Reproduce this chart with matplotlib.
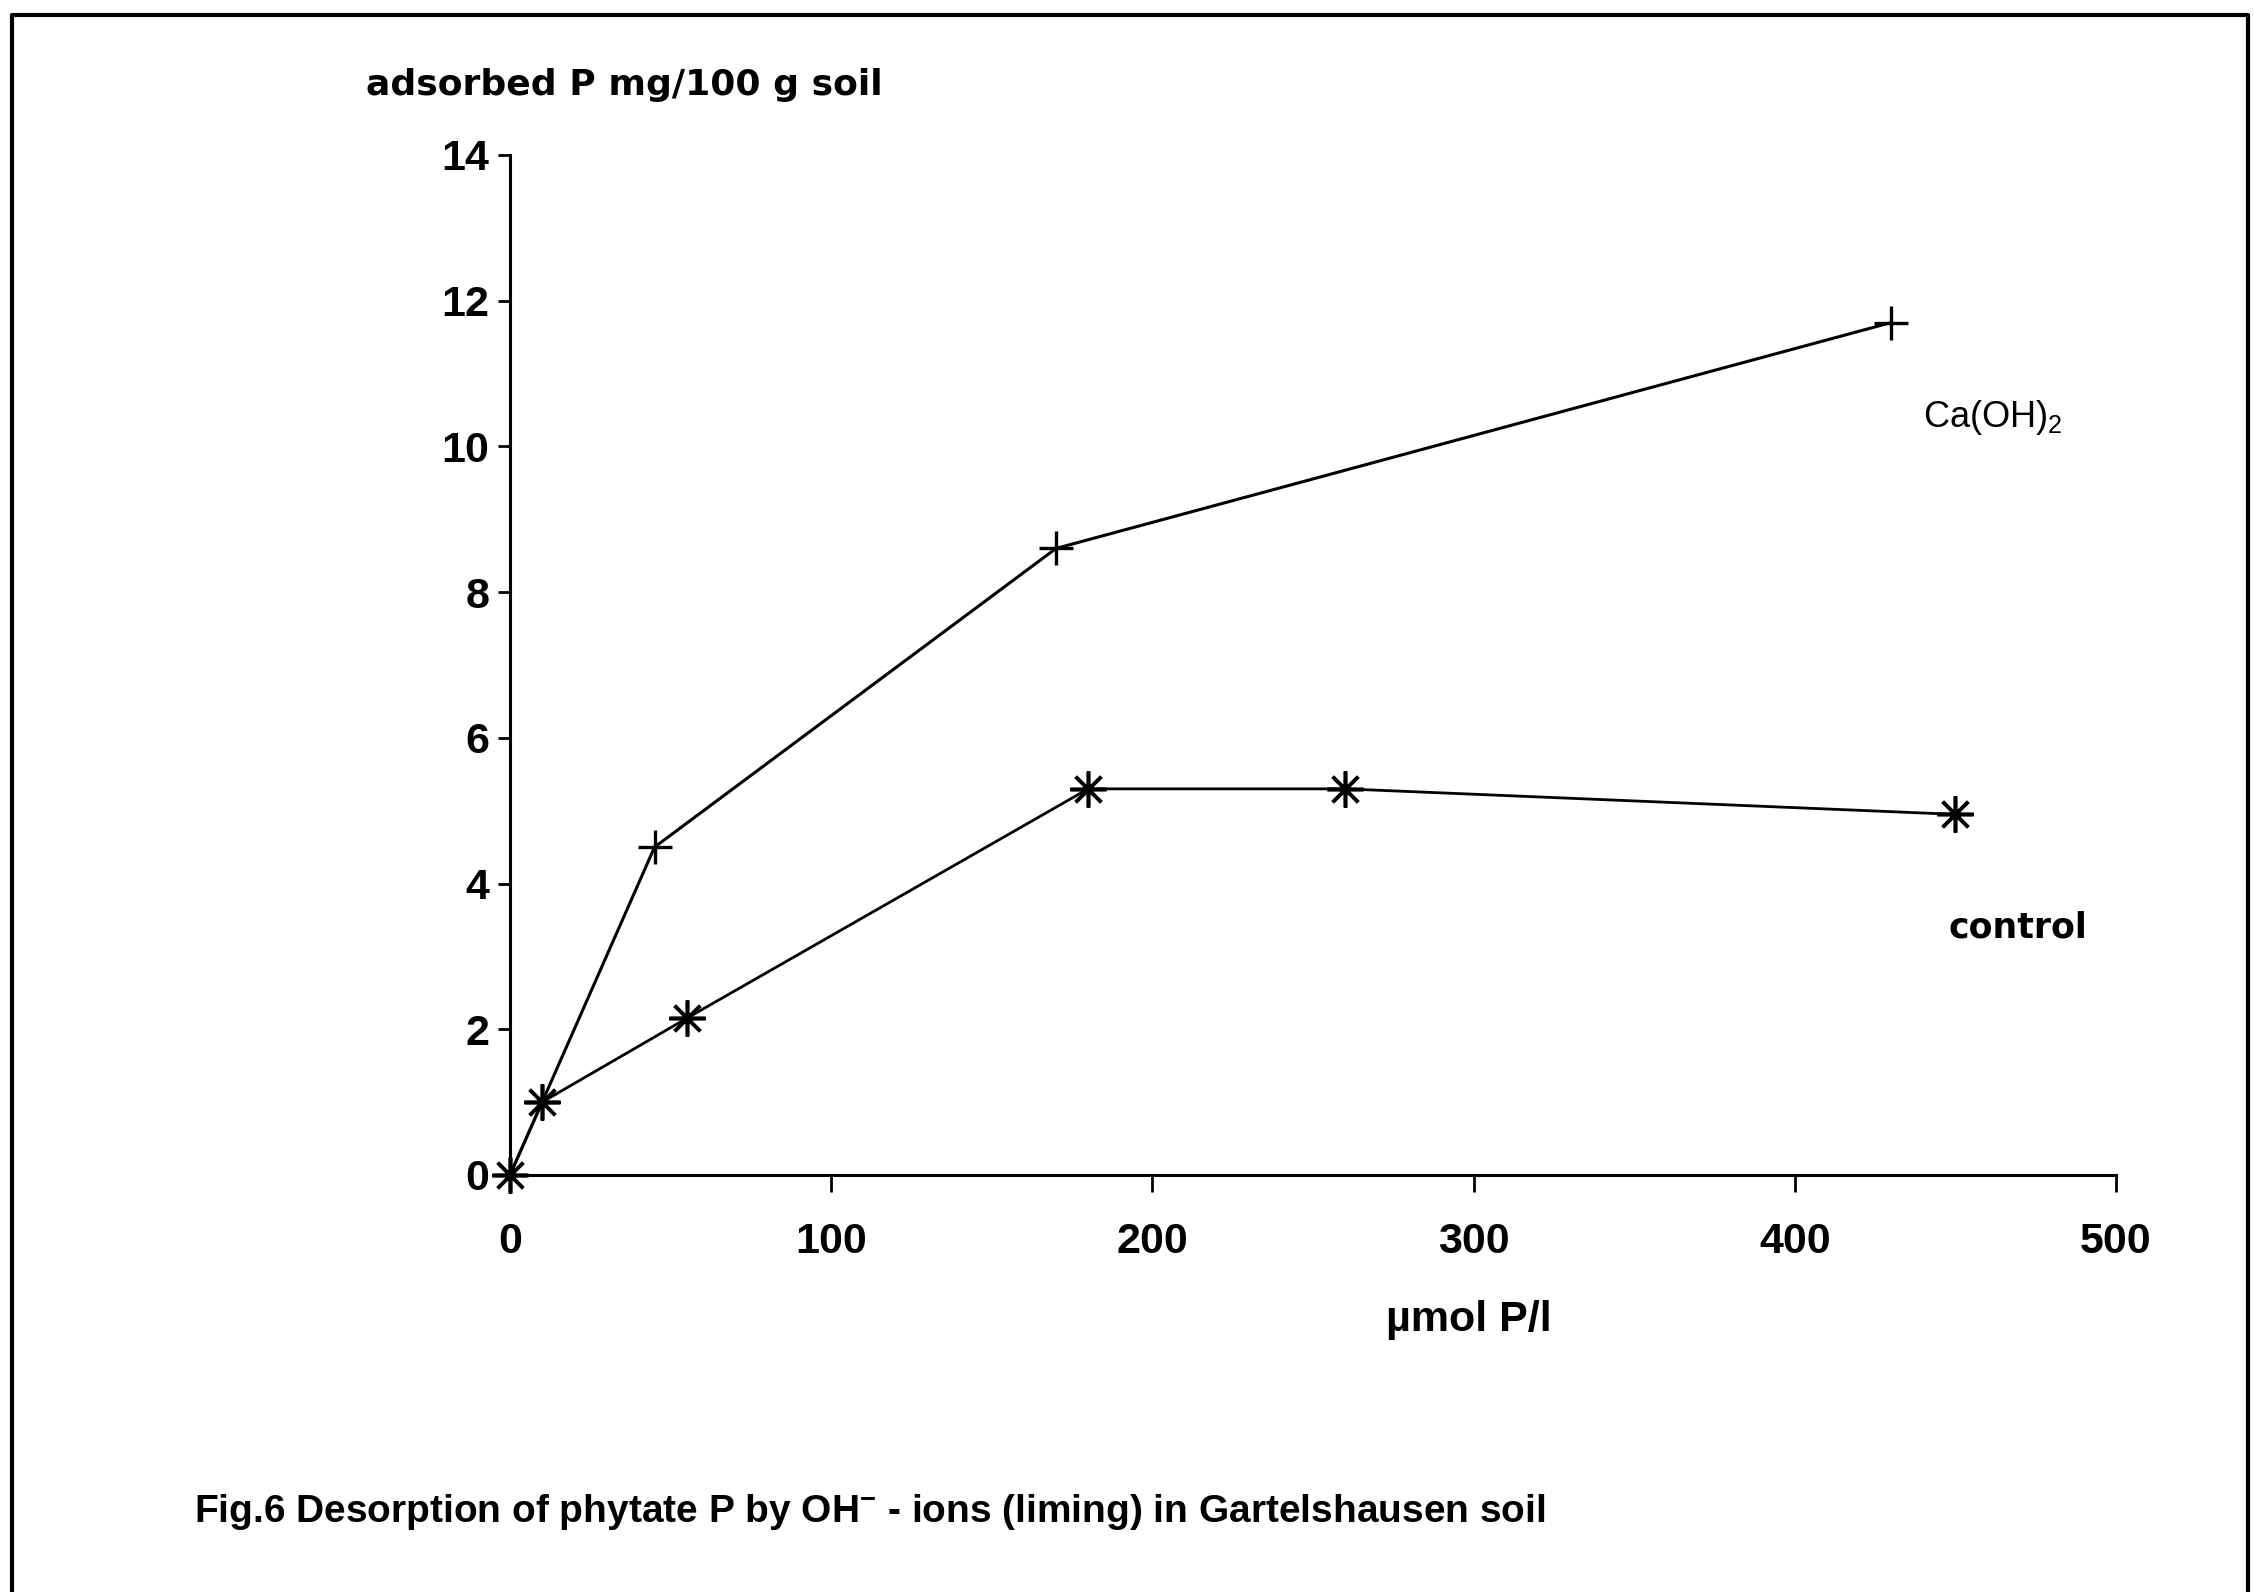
import matplotlib
matplotlib.use("Agg")
import matplotlib.pyplot as plt
from matplotlib.lines import Line2D

plt.rcParams['font.family'] = ['Liberation Sans', 'DejaVu Sans']
plt.rcParams['mathtext.default'] = 'regular'

# Data
caoh_x = [0, 10, 45, 170, 430]
caoh_y = [0, 1.0, 4.5, 8.6, 11.7]
control_x = [0, 10, 55, 180, 260, 450]
control_y = [0, 1.0, 2.15, 5.3, 5.3, 4.95]
x_ticks = [0, 100, 200, 300, 400, 500]
y_ticks = [0, 2, 4, 6, 8, 10, 12, 14]

W, H = 2254, 1592
fig = plt.figure(figsize=(W / 100, H / 100), dpi=100)
ax = fig.add_axes([510 / W, 1 - 1175 / H, (2116 - 510) / W, (1175 - 155) / H])

ax.plot(caoh_x, caoh_y, color='black', lw=2.2, marker='+', ms=24, mew=2.4,
        clip_on=False)
ax.plot(control_x, control_y, color='black', lw=2.0, marker=(8, 2, 0), ms=26,
        mew=2.6, clip_on=False)

ax.set_xlim(0, 500)
ax.set_ylim(0, 14)
ax.set_xticks(x_ticks)
ax.set_yticks(y_ticks)
for s in ['top', 'right']:
    ax.spines[s].set_visible(False)
for s in ['left', 'bottom']:
    ax.spines[s].set_linewidth(2.2)
ax.tick_params(axis='y', direction='out', length=9, width=2, pad=6, labelsize=31)
ax.tick_params(axis='x', direction='out', length=12, width=2, pad=22, labelsize=31)
for lab in ax.get_xticklabels() + ax.get_yticklabels():
    lab.set_fontweight('bold')

ax.text(440, 10.4, r'Ca(OH)$_2$', fontsize=26, va='center', ha='left')
ax.text(448, 3.4, 'control', fontsize=25, fontweight='bold', va='center',
        ha='left', family='DejaVu Sans')

fig.text(366 / W, 1 - 85 / H, 'adsorbed P mg/100 g soil', fontsize=26,
         fontweight='bold', va='center', ha='left', family='DejaVu Sans')
fig.text(1469 / W, 1 - 1320 / H, 'µmol P/l', fontsize=31,
         fontweight='bold', va='center', ha='center')
fig.text(194 / W, 1 - 1512 / H,
         r'Fig.6 Desorption of phytate P by OH$^{-}$ - ions (liming) in Gartelshausen soil',
         fontsize=28, fontweight='bold', va='center', ha='left')

# page frame (left, top, right)
frame = Line2D([12 / W, 12 / W, 2248 / W, 2248 / W],
               [0, 1 - 15 / H, 1 - 15 / H, 0],
               transform=fig.transFigure, color='black', lw=3)
fig.add_artist(frame)

fig.savefig('out.png', dpi=100, facecolor='white')
